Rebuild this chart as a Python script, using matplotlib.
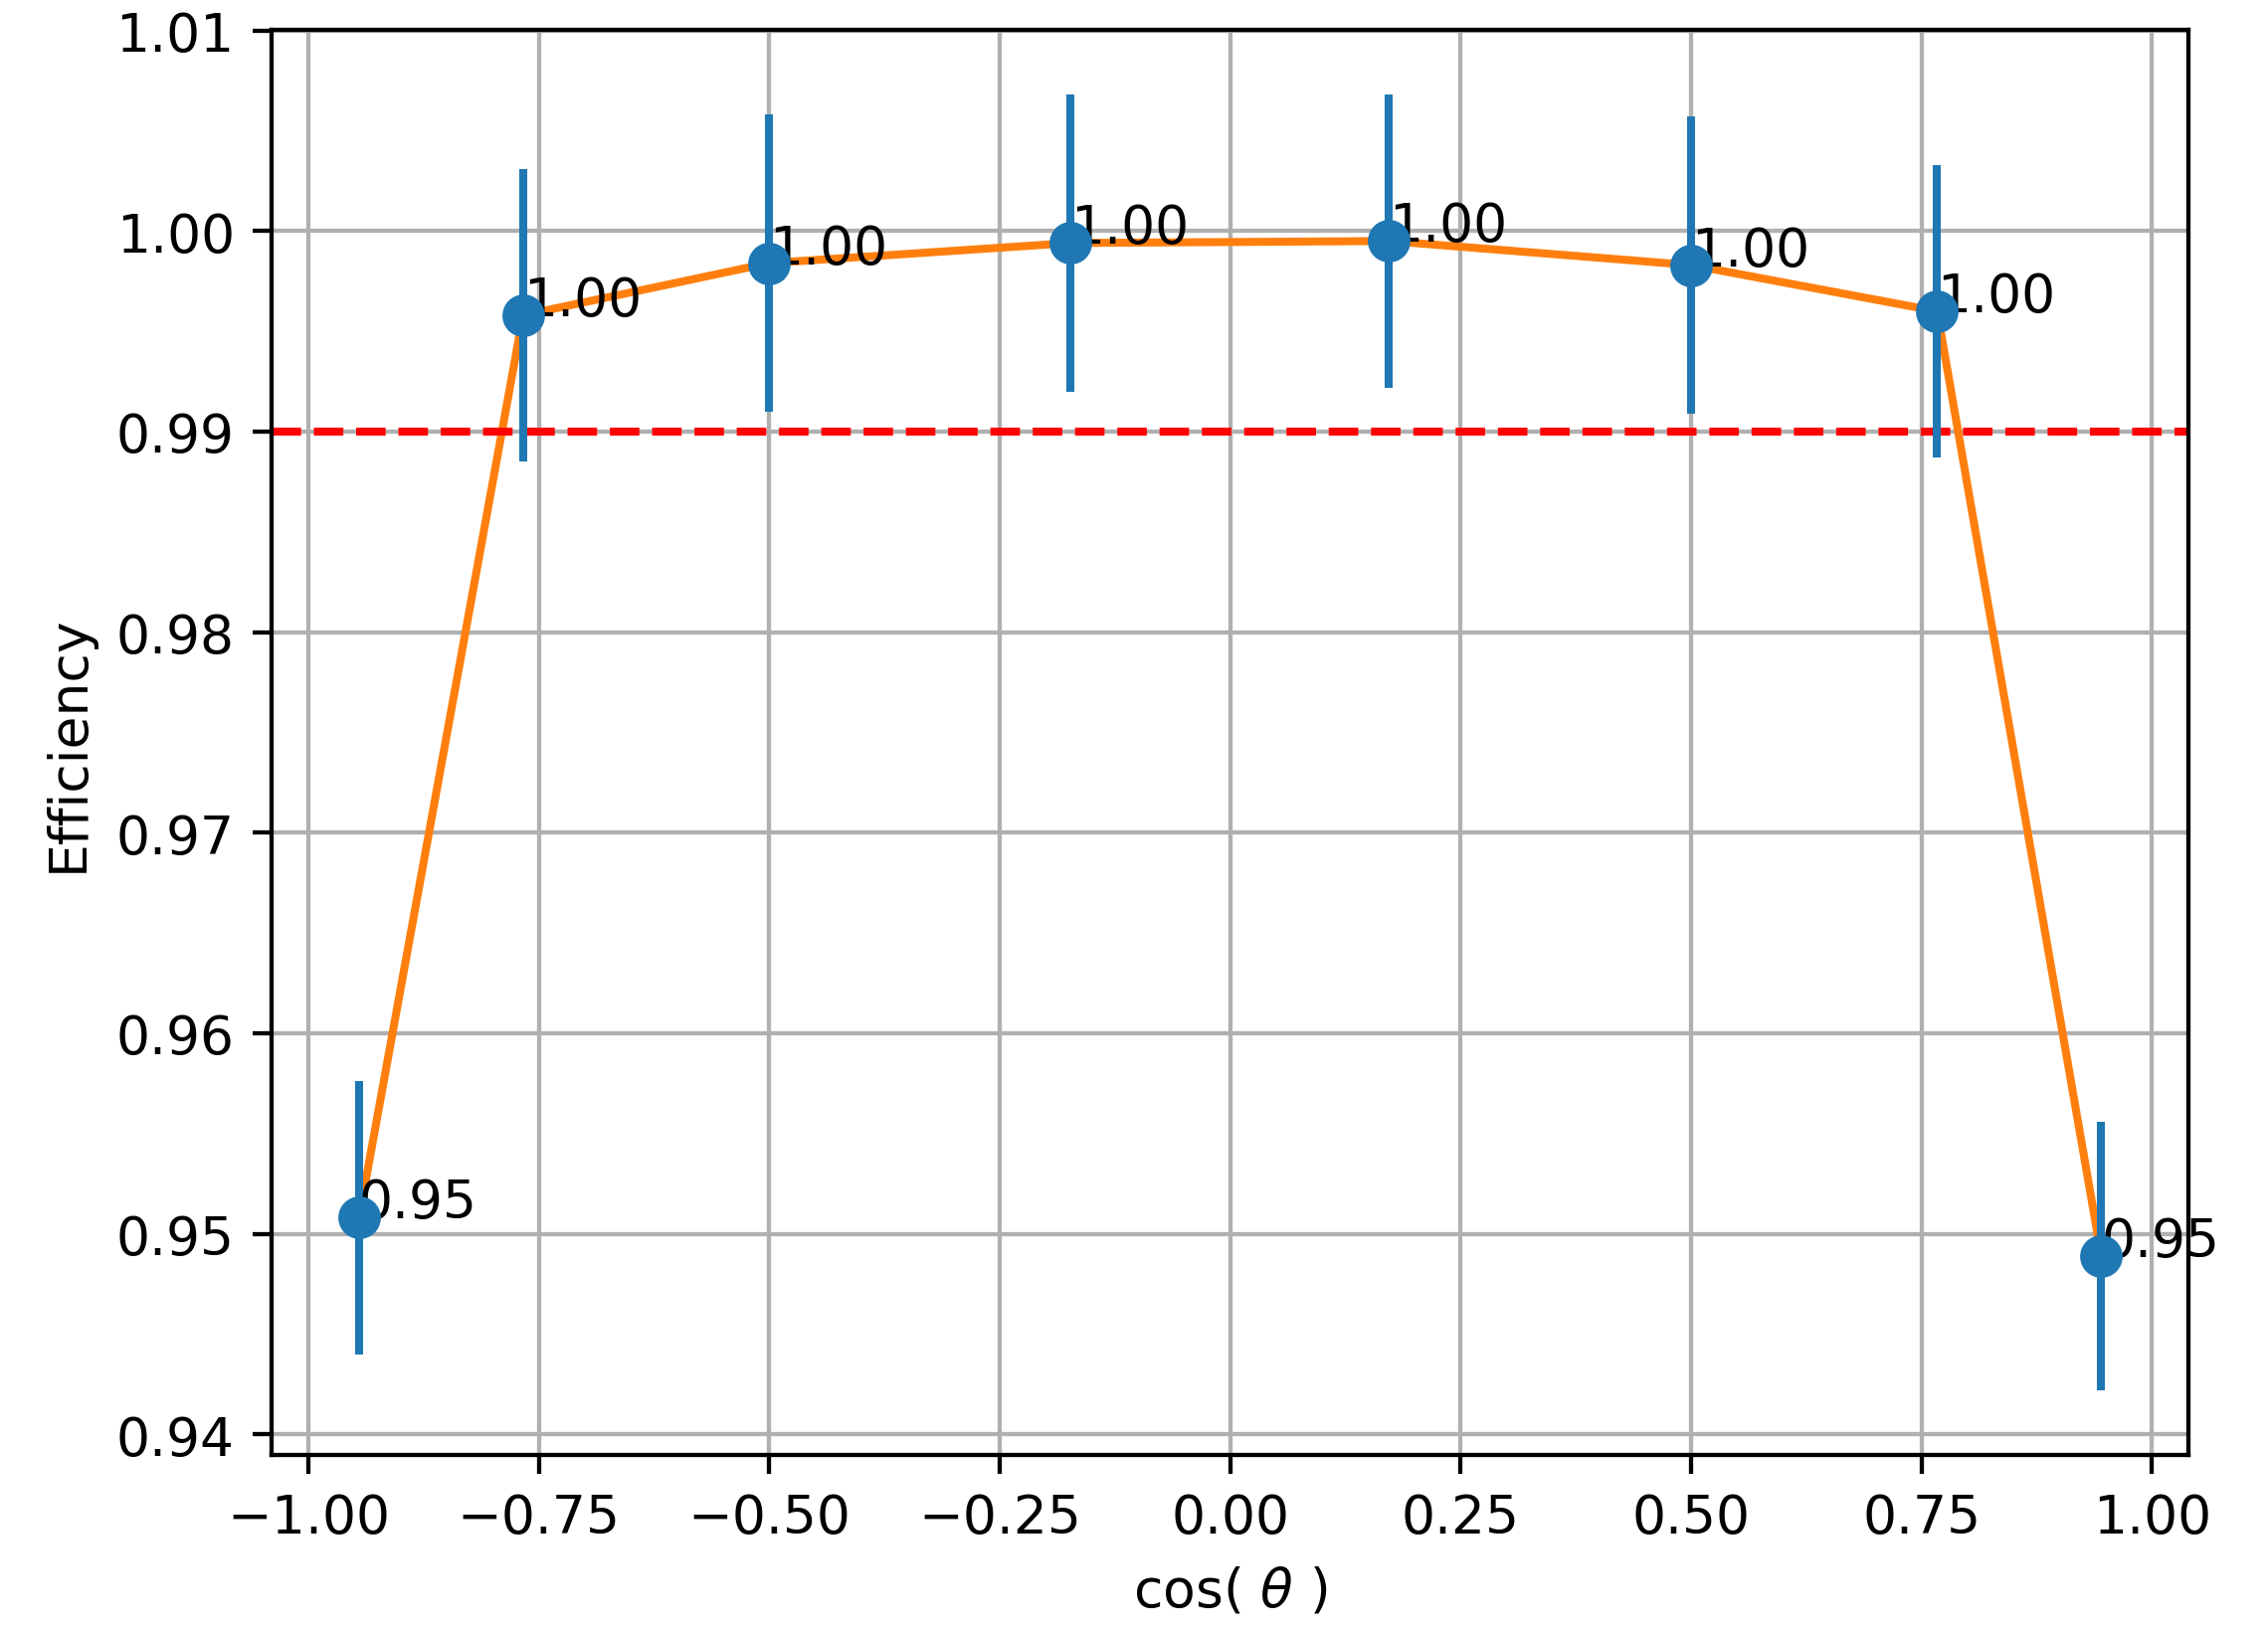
import matplotlib
matplotlib.use("Agg")
import matplotlib.pyplot as plt
import numpy as np

# cos(theta) bin centres and measured efficiency
cos_theta = [-0.945, -0.767, -0.500, -0.173, 0.172, 0.500, 0.767, 0.945]
eff = [0.9508, 0.9958, 0.9984, 0.9994, 0.9995, 0.9983, 0.9960, 0.9489]
eff_err = [0.0068, 0.0073, 0.0074, 0.0074, 0.0073, 0.0074, 0.0073, 0.0067]
threshold = 0.99

dpi = 385
fig = plt.figure(figsize=(2280 / dpi, 1640 / dpi), dpi=dpi)
ax = fig.add_subplot(111)
fig.subplots_adjust(left=273.3 / 2280, right=2200 / 2280,
                    bottom=1 - 1464 / 1640, top=1 - 31 / 1640)

ax.plot(cos_theta, eff, color="C1", zorder=2)
ax.errorbar(cos_theta, eff, yerr=eff_err, fmt="o", color="C0",
            markersize=7, zorder=3)
ax.axhline(threshold, color="r", linestyle="--", zorder=2.5)

for xv, yv in zip(cos_theta, eff):
    ax.annotate("%.2f" % yv, (xv, yv))

ax.set_xlabel(r"cos( $\theta$ )")
ax.set_ylabel("Efficiency")
ax.grid(True)

fig.savefig("out.png", dpi=dpi)
